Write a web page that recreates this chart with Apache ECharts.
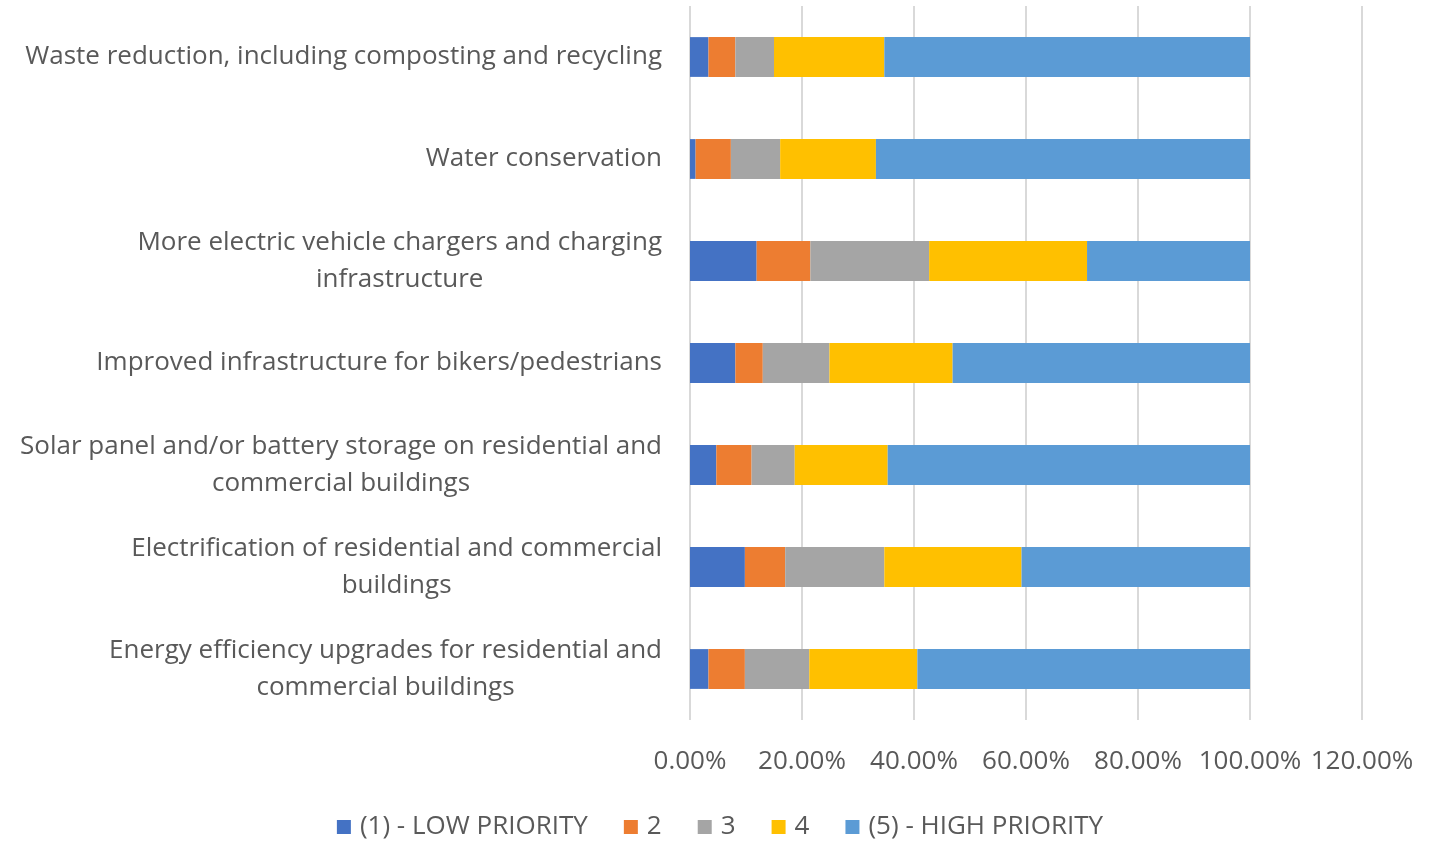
<!DOCTYPE html>
<html>
<head>
<meta charset="utf-8">
<script src="https://cdn.jsdelivr.net/npm/echarts@6/dist/echarts.min.js"></script>
<style>
html,body{margin:0;padding:0;background:#fff;}
#chart{width:1440px;height:842px;}
</style>
</head>
<body>
<div id="chart"></div>
<script>
// Categories, top to bottom as shown
const categories = [
  "Waste reduction, including composting and recycling",
  "Water conservation",
  "More electric vehicle chargers and charging\ninfrastructure",
  "Improved infrastructure for bikers/pedestrians",
  "Solar panel and/or battery storage on residential and\ncommercial buildings",
  "Electrification of residential and commercial\nbuildings",
  "Energy efficiency upgrades for residential and\ncommercial buildings"
];
const seriesNames = ["(1) - LOW PRIORITY", "2", "3", "4", "(5) - HIGH PRIORITY"];
// Percent values per category (same order as categories)
const low1  = [3.3, 1.0, 11.9, 8.1, 4.7, 9.8, 3.3];
const p2    = [4.8, 6.3, 9.6, 4.9, 6.3, 7.2, 6.5];
const p3    = [6.9, 8.8, 21.2, 11.9, 7.7, 17.7, 11.5];
const p4    = [19.7, 17.1, 28.2, 22.0, 16.6, 24.5, 19.3];
const high5 = [65.3, 66.8, 29.1, 53.1, 64.7, 40.8, 59.4];
const xTicks = { min: 0, max: 120, interval: 20 };

const colors = ["#4472C4", "#ED7D31", "#A5A5A5", "#FFC000", "#5B9BD5"];
const allData = [low1, p2, p3, p4, high5];
const FONT = "Open Sans";

const chart = echarts.init(document.getElementById('chart'), null, {renderer: 'canvas'});
chart.setOption({
  animation: false,
  color: colors,
  textStyle: { fontFamily: FONT },
  grid: { left: 690, right: 78, top: 6, bottom: 122, containLabel: false },
  legend: {
    bottom: -3,
    left: 'center',
    icon: 'rect',
    itemWidth: 14,
    itemHeight: 14,
    itemGap: 36,
    textStyle: { fontFamily: FONT, fontSize: 26, color: '#595959', padding: [0, 0, 0, 4] },
    data: seriesNames
  },
  xAxis: {
    type: 'value',
    min: xTicks.min, max: xTicks.max, interval: xTicks.interval,
    axisLine: { show: false },
    axisTick: { show: false },
    splitLine: { show: true, lineStyle: { color: '#d9d9d9', width: 2 } },
    axisLabel: {
      margin: 29,
      fontFamily: FONT, fontSize: 26, color: '#595959',
      formatter: v => v.toFixed(2) + '%'
    }
  },
  yAxis: {
    type: 'category',
    inverse: true,
    data: categories,
    axisLine: { show: false },
    axisTick: { show: false },
    axisLabel: {
      margin: 28,
      formatter: v => '{c|' + v.split('\n').join('}\n{c|') + '}',
      rich: {
        c: { align: 'center', fontFamily: FONT, fontSize: 26, color: '#595959', lineHeight: 37 }
      }
    }
  },
  series: seriesNames.map((n, i) => ({
    name: n,
    type: 'bar',
    stack: 'total',
    barWidth: '39%',
    data: allData[i],
    itemStyle: { color: colors[i] }
  }))
});
</script>
</body>
</html>
